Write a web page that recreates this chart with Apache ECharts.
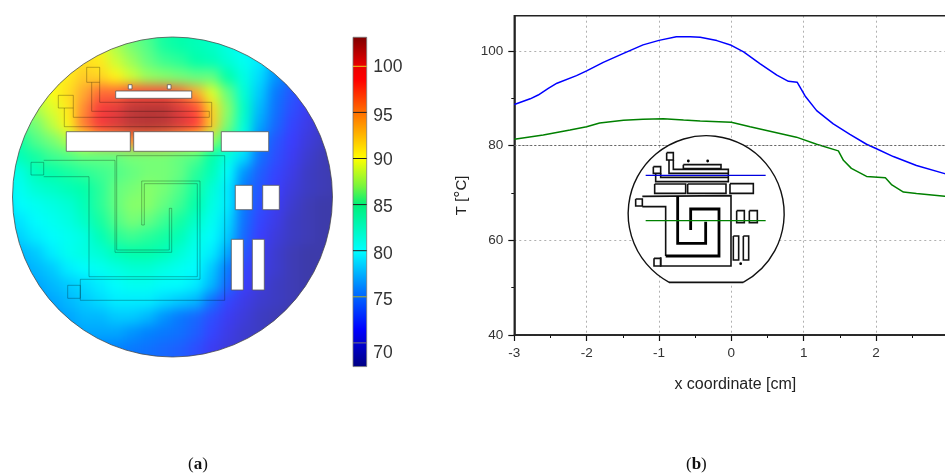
<!DOCTYPE html>
<html><head><meta charset="utf-8">
<style>html,body{margin:0;padding:0;background:#fff;overflow:hidden}#c{width:945px;height:473px}</style>
<script src="https://cdn.jsdelivr.net/npm/echarts@6/dist/echarts.min.js"></script>
</head><body><div id="c"></div>
<script>
// ---------- (b) line profiles ----------
const blueX=[-3,-2.78,-2.67,-2.53,-2.41,-2.14,-2,-1.77,-1.49,-1.22,-1,-.76,-.57,-.43,-.2,0,.17,.4,.63,.79,.91,1.02,1.18,1.41,1.64,1.87,2,2.24,2.56,2.95,3];
const blueT=[88.7,89.9,90.7,92.1,93.2,94.8,95.8,97.6,99.5,101.3,102.25,103,103.03,102.9,102.2,101.2,99.8,97.3,94.9,93.6,93.4,90.5,87.4,84.6,82.4,80.3,79.4,77.7,75.8,74.1,74];
const greenX=[-3,-2.6,-2.23,-2,-1.82,-1.49,-1.22,-.94,-.66,-.43,0,.26,.58,.9,1.18,1.48,1.55,1.66,1.87,2.13,2.22,2.38,2.56,2.95,3];
const greenT=[81.35,82.25,83.3,84,84.8,85.35,85.6,85.7,85.4,85.2,84.95,84,82.9,81.8,80.3,78.9,76.9,75.2,73.5,73.2,71.7,70.2,69.9,69.3,69.2];
const tempTicks=[40,60,80,100];
// ---------- (a) temperature field, one row per 16 px band ----------
const tempRows=[
[88,88,88,88,89,89,88.5,87,85.5,84.5,83.5,83,82.5,82,81,80,79,77,75,73,71,70],
[88,88,88,88.5,90,90.5,89.5,87.5,86,85,83.5,83,82.5,82,81,80,79,77,75,73,71,70],
[88,88,88,89,90.5,91.5,91,88.5,87,85.5,84.5,84,83,82.5,81.5,80.5,79.5,77.5,75.5,73.5,71.5,70],
[88,88,88.5,89.5,91,92.5,92,90.5,88.5,87,86.5,86,85.5,85.5,83,81,79,77,75,73,71.5,70],
[87,87.5,88,90,91.5,94,96,96,97,97,97,96,94,89,85.5,81.5,78.5,76,74,72.5,71,69.5],
[86,86.5,87.5,89,91,95,98.5,100,102,102.5,102.5,100.5,97,92,86.5,82,78,75.5,73.5,72,70.5,69.5],
[84.5,85,86,88,90.5,95.5,98.5,100.5,102,102.5,102,100.5,97.5,92.5,86,81.5,77.5,75,73,71.5,70,69],
[83,83.5,85,86,87.5,90,93,94,95,95,94.5,93,90,87,84,80.5,76.5,74,72.5,71,70,69],
[81.5,82.5,83.5,84.5,85,85.5,85.5,85.5,86,86,86,85.5,85,83,81,79,75.5,73.5,72,70.5,69.5,69],
[80,81,82.5,83,83.5,84,84.5,85,85.5,86,86,85.5,84,82.5,80,77,74.5,73,71.5,70,69.5,69],
[79.5,80.5,81.5,82,82.5,83,84,85.5,86,86.5,86,85,83.5,81.5,79.5,76,74,72.5,71,70,69.5,69],
[79,80,80.5,81,81.5,82.5,84,85.5,86.5,86.5,85.5,84.5,83,81,79.5,76,73.5,72,70.5,69.5,69,69],
[78.5,79.3,80,80.5,81,82,83.5,85,86,85.5,84.5,83.5,82,80.5,79,75.5,73,71.5,70,69.5,69,69],
[78,78.8,79.5,80,80.5,81,82.5,84,84.5,84,83.5,82.5,81,80,78.5,75,72.5,71,70,69.5,69,69],
[77.5,78,78.5,79.5,80.5,81,81.5,82.5,83,83,82.5,81.5,80.5,79.5,77.5,74,72,70.5,69.5,69,69,69],
[77,77.5,78,78.5,79.5,80,80.5,81,81.5,81.5,81,80.5,80,78.5,76,73,71.5,70.5,69.5,69,69,69],
[76.5,77,77.5,78,78.5,79,79.5,80,80.5,80.5,80,80,79.5,78,75,72.5,71,70,69.5,69,69,69],
[76,76.5,77,77.5,78,78.5,79,79.5,79.5,79.5,79,78.5,78,75.5,73,71.5,70.5,70,69.5,69,69,69],
[75.5,76,76.5,77,77.5,78,78,78.5,78.5,78,77,76,75,73.5,72,71,70,69.5,69,69,69,69],
[75,75.5,76,76.5,77,77.5,77.5,77.5,77,76.5,76,75.5,74.5,73,71.5,70.5,70,69.5,69,69,69,69],
[75,75,75.5,76,76.5,76.5,76.5,76.5,76,75.5,75,74.5,73.5,72,71,70.5,70,69.5,69,69,69,69],
[75,75,75.5,76,76.5,76.5,76.5,76.5,76,75.5,75,74.5,73.5,72,71,70.5,70,69.5,69,69,69,69]
];
const scaleMin=67.43, scaleMax=103.15;
const barTicks=[100,95,90,85,80,75,70];
// ---------- (a) wafer layout, in its own 345×373 frame ----------
const waferCentre=[172.5,197], waferRadius=160;
const waferHoles=[[115.7,91,191.7,98.3],[128.3,84.7,132,89],[167.3,84.7,171,89],[66.3,131.7,130.3,151.3],[133.7,131.7,213.3,151.3],[221.3,131.7,268.7,151.3],[235.3,185.3,252.3,209.7],[262.7,185.3,279.3,209.7],[231.3,239.3,243.3,290],[252.3,239.3,264.3,290]];
const waferTraces=[
[[86.7,67.3],[99.7,67.3],[99.7,82.3],[86.7,82.3],[86.7,67.3]],
[[58.3,95.3],[73.3,95.3],[73.3,108],[58.3,108],[58.3,95.3]],
[[91.7,82.3],[91.7,111.3],[209.3,111.3],[209.3,117.3],[73.3,117.3],[73.3,108]],
[[99.7,82.3],[99.7,102.3],[211.7,102.3],[211.7,126.7],[64.3,126.7],[64.3,108]],
[[31,162.3],[43.7,162.3],[43.7,175],[31,175],[31,162.3]],
[[43.7,160.3],[115,160.3],[115,252.3],[171.7,252.3],[171.7,208.3],[169.3,208.3],[169.3,250],[116.7,250],[116.7,155.7],[224.7,155.7],[224.7,300.3],[80.3,300.3],[80.3,279.3],[200,279.3],[200,181],[141.7,181],[141.7,225],[144.3,225],[144.3,183.7],[197.3,183.7],[197.3,276.7],[89,276.7],[89,176.7],[43.7,176.7]],
[[67.7,285.3],[80.3,285.3],[80.3,298.3],[67.7,298.3],[67.7,285.3]]
];
// ---------- (b) inset sketch, in its own 570×480 frame ----------
const insetCentre=[258.5,251], insetRadius=234;
const insetThin=[
[[140,68],[160,68],[160,90],[140,90],[140,68]],
[[147,90],[147,130],[325,130]],
[[160,90],[160,118],[325,118],[325,155],[107,155],[107,130]],
[[190,104],[303,104],[303,116],[190,116],[190,104]],
[[100,110],[122,110],[122,130],[100,130],[100,110]],
[[122,130],[122,142],[325,142]],
[[104,162],[197,162],[197,190],[104,190],[104,162]],
[[203,162],[318,162],[318,190],[203,190],[203,162]],
[[330,161],[400,161],[400,190],[330,190],[330,161]],
[[47,207],[67,207],[67,228],[47,228],[47,207]],
[[67,199],[333,197],[333,408],[122,408],[122,382]],
[[67,230],[137,230],[137,378]],
[[102,385],[122,385],[122,408],[102,408],[102,385]],
[[350,242],[373,242],[373,278],[350,278],[350,242]],
[[388,242],[412,242],[412,278],[388,278],[388,242]],
[[340,318],[356,318],[356,390],[340,390],[340,318]],
[[370,318],[386,318],[386,390],[370,390],[370,318]],
[[147,457],[370,457]]
];
const insetThick=[
[[173,198],[173,340],[257,340],[257,275]],
[[212,300],[212,237],[297,237],[297,378],[137,378]]
];
const insetDots=[[205,93],[263,93],[362,401]];
const insetCuts=[{y:136,c:'#0000e0'},{y:272,c:'#008000'}];
const insetCutSpan=[77,437];

// ---------- colours ----------
const heatStops=[[67.43,[40,40,140]],[69,[62,60,170]],[72.5,[60,60,255]],[76.5,[0,130,255]],[80,[0,255,255]],[83,[0,255,170]],[85.5,[100,255,130]],[87.5,[170,255,80]],[90,[255,255,20]],[94,[255,170,50]],[97.5,[255,60,60]],[99.5,[240,60,60]],[101.5,[195,60,60]],[103.15,[175,50,50]]];
function heatColours(){const out=[];for(let i=0;i<=143;i++){const v=scaleMin+(scaleMax-scaleMin)*i/143;let k=0;while(k<heatStops.length-2&&v>heatStops[k+1][0])k++;const a=heatStops[k],b=heatStops[k+1],t=Math.min(1,(v-a[0])/(b[0]-a[0]));out.push('rgb('+a[1].map((c,j)=>Math.round(c+(b[1][j]-c)*t)).join(',')+')');}return out;}
const barStops=[[67.43,'#000082'],[71.5,'#0000ff'],[76,'#0080ff'],[80,'#00ffff'],[85,'#00f078'],[87,'#78f53c'],[90,'#ffff00'],[95,'#ff6e00'],[98.5,'#ff0000'],[100,'#eb0000'],[103.15,'#7d0000']];
const barGradient={type:'linear',x:0,y:1,x2:0,y2:0,colorStops:barStops.map(s=>({offset:(s[0]-scaleMin)/(scaleMax-scaleMin),color:s[1]}))};
const barTickColours={100:'#e8d020',95:'#222',90:'#222',85:'#222',80:'#222',75:'#b0b020',70:'#777'};
const FONT='"Liberation Sans",Arial,sans-serif';

const heatData=[];tempRows.forEach((r,j)=>r.forEach((v,i)=>heatData.push([i,j,v])));
const idx=a=>a.map((_,i)=>[i]);
const hidden=(extra)=>Object.assign({type:'value',show:false,splitLine:{show:false}},extra);
function polyline(list,style){return function(p,api){return {type:'polyline',shape:{points:list[api.value(0)].map(q=>api.coord(q))},style:Object.assign({fill:null},style)};};}
const free={outerBoundsMode:'none',containLabel:false};

const option={
 backgroundColor:'transparent',animation:false,
 grid:[
  Object.assign({left:-4,top:21,width:352,height:352},free),
  Object.assign({left:0,top:0,width:345,height:373},free),
  Object.assign({left:353,top:20.2,width:13.7,height:368.8},free),
  Object.assign({left:514.3,top:15.7,width:434,height:319.3,show:true,borderColor:'#222',borderWidth:1.5,z:1},free),
  Object.assign({left:620,top:130,width:190,height:160},free)
 ],
 xAxis:[
  {type:'category',gridIndex:0,show:false,data:tempRows[0].map((_,i)=>i)},
  hidden({gridIndex:1,min:0,max:345}),
  hidden({gridIndex:2,min:0,max:1}),
  {type:'value',gridIndex:3,min:-3,max:3,interval:1,
   axisLine:{onZero:false,lineStyle:{color:'#111',width:1.5}},
   axisTick:{show:true,length:6,lineStyle:{color:'#111',width:1.2}},
   minorTick:{show:true,splitNumber:2,length:3,lineStyle:{color:'#111'}},
   splitLine:{show:true,lineStyle:{color:'#b0b0b0',type:[2,3]}},
   axisLabel:{color:'#333',fontFamily:FONT,fontSize:13.5,margin:11,showMinLabel:true,showMaxLabel:true,hideOverlap:false},
   name:'x coordinate [cm]',nameLocation:'middle',nameGap:42,nameTextStyle:{color:'#222',fontFamily:FONT,fontSize:16,padding:[0,0,0,8]}},
  hidden({gridIndex:4,min:0,max:570})
 ],
 yAxis:[
  {type:'category',gridIndex:0,show:false,inverse:true,data:tempRows.map((_,i)=>i)},
  hidden({gridIndex:1,min:0,max:373,inverse:true}),
  {type:'value',gridIndex:2,min:65,max:105,interval:5,position:'right',
   axisLine:{show:false},axisTick:{show:false},splitLine:{show:false},
   axisLabel:{margin:6.5,color:'#333',fontFamily:FONT,fontSize:17.5,
    formatter:v=>(v<70||v>100)?'':('{t'+v+'|'+v+'}'),
    rich:{t100:{fontSize:17.5,padding:[1,0,0,0]},t95:{fontSize:17.5,padding:[8,0,0,0]},t90:{fontSize:17.5,padding:[3,0,0,0]},t85:{fontSize:17.5,padding:[6,0,0,0]},t80:{fontSize:17.5,padding:[7,0,0,0]},t75:{fontSize:17.5,padding:[7,0,0,0]},t70:{fontSize:17.5,padding:[20,0,0,0]}}}},
  {type:'value',gridIndex:3,min:40,max:107.46,interval:20,
   axisLine:{show:true,onZero:false,lineStyle:{color:'#111',width:1.5}},
   axisTick:{show:true,length:6,customValues:tempTicks,lineStyle:{color:'#111',width:1.2}},
   minorTick:{show:true,splitNumber:2,length:3,lineStyle:{color:'#111'}},
   splitLine:{show:true,lineStyle:{color:'#b0b0b0',type:[2,3]}},
   axisLabel:{color:'#333',fontFamily:FONT,fontSize:13.5,margin:11,customValues:tempTicks},
   name:'T [{s|°}C]',nameLocation:'middle',nameGap:43,nameRotate:90,
   nameTextStyle:{color:'#222',fontFamily:FONT,fontSize:15,padding:[0,40,0,0],rich:{s:{fontFamily:FONT,fontSize:18,color:'#222'}}}},
  hidden({gridIndex:4,min:0,max:480,inverse:true})
 ],
 visualMap:{show:false,seriesIndex:0,min:scaleMin,max:scaleMax,inRange:{color:heatColours()}},
 series:[
  {type:'heatmap',xAxisIndex:0,yAxisIndex:0,zlevel:-1,data:heatData,itemStyle:{borderWidth:0},emphasis:{disabled:true},progressive:0},
  {type:'custom',xAxisIndex:1,yAxisIndex:1,z:3,silent:true,clip:false,data:[[0]],renderItem:(p,api)=>{const c=api.coord(waferCentre);return {type:'circle',shape:{cx:c[0],cy:c[1],r:api.size([waferRadius,0])[0]},style:{fill:null,stroke:'rgba(70,70,70,.75)',lineWidth:1}};}},
  {type:'custom',xAxisIndex:1,yAxisIndex:1,z:4,silent:true,clip:false,data:idx(waferHoles),renderItem:(p,api)=>{const r=waferHoles[api.value(0)],a=api.coord([r[0],r[1]]),b=api.coord([r[2],r[3]]);return {type:'rect',shape:{x:a[0],y:a[1],width:b[0]-a[0],height:b[1]-a[1]},style:{fill:'#fff',stroke:'rgba(90,90,90,.8)',lineWidth:1}};}},
  {type:'custom',xAxisIndex:1,yAxisIndex:1,z:3,silent:true,clip:false,data:idx(waferTraces),renderItem:polyline(waferTraces,{stroke:'rgba(0,0,0,.28)',lineWidth:1})},
  {type:'custom',xAxisIndex:2,yAxisIndex:2,z:3,silent:true,clip:false,data:[[0]],renderItem:(p,api)=>{const a=api.coord([0,scaleMax]),b=api.coord([1,scaleMin]);return {type:'rect',shape:{x:a[0],y:a[1],width:b[0]-a[0],height:b[1]-a[1]},style:{fill:barGradient,stroke:'#777',lineWidth:.8}};}},
  {type:'custom',xAxisIndex:2,yAxisIndex:2,z:4,silent:true,clip:false,data:barTicks.map(v=>[v]),encode:{y:0},renderItem:(p,api)=>{const v=api.value(0),a=api.coord([0,v]),b=api.coord([1,v]);return {type:'line',shape:{x1:a[0],y1:a[1],x2:b[0],y2:b[1]},style:{stroke:barTickColours[v],lineWidth:1}};}},
  {type:'line',name:'upper',xAxisIndex:3,yAxisIndex:3,z:3,symbol:'none',lineStyle:{color:'#0000ff',width:1.5},data:blueX.map((x,i)=>[x,blueT[i]]),
   markLine:{silent:true,symbol:'none',label:{show:false},lineStyle:{color:'#666',type:[2,2],width:1},data:[{yAxis:80}]}},
  {type:'line',name:'lower',xAxisIndex:3,yAxisIndex:3,z:3,symbol:'none',lineStyle:{color:'#008000',width:1.5},data:greenX.map((x,i)=>[x,greenT[i]])},
  {type:'custom',xAxisIndex:4,yAxisIndex:4,z:6,silent:true,clip:false,data:[[0]],renderItem:(p,api)=>{const c=api.coord(insetCentre),r=api.size([insetRadius,0])[0];return {type:'arc',shape:{cx:c[0],cy:c[1],r:r,startAngle:118.3*Math.PI/180,endAngle:(360+61.7)*Math.PI/180,clockwise:true},style:{fill:'#fff',stroke:'#111',lineWidth:1.4}};}},
  {type:'custom',xAxisIndex:4,yAxisIndex:4,z:7,silent:true,clip:false,data:idx(insetThin),renderItem:polyline(insetThin,{stroke:'#111',lineWidth:1.6})},
  {type:'custom',xAxisIndex:4,yAxisIndex:4,z:7,silent:true,clip:false,data:idx(insetThick),renderItem:polyline(insetThick,{stroke:'#000',lineWidth:2.8})},
  {type:'custom',xAxisIndex:4,yAxisIndex:4,z:7,silent:true,clip:false,data:insetDots,renderItem:(p,api)=>{const c=api.coord([api.value(0),api.value(1)]);return {type:'circle',shape:{cx:c[0],cy:c[1],r:1.4},style:{fill:'#000'}};}},
  {type:'custom',xAxisIndex:4,yAxisIndex:4,z:8,silent:true,clip:false,data:idx(insetCuts),renderItem:(p,api)=>{const k=insetCuts[api.value(0)],a=api.coord([insetCutSpan[0],k.y]),b=api.coord([insetCutSpan[1],k.y]);return {type:'line',shape:{x1:a[0],y1:a[1],x2:b[0],y2:b[1]},style:{stroke:k.c,lineWidth:1.3}};}}
 ],
 graphic:[
  {type:'text',left:188,top:456,style:{text:'({b|a})',fill:'#111',font:'17px "Liberation Serif",serif',rich:{b:{font:'bold 17px "Liberation Serif",serif',fill:'#111'}}}},
  {type:'text',left:686,top:456,style:{text:'({b|b})',fill:'#111',font:'17px "Liberation Serif",serif',rich:{b:{font:'bold 17px "Liberation Serif",serif',fill:'#111'}}}}
 ]
};
const chart=echarts.init(document.getElementById('c'),null,{renderer:'canvas',width:945,height:473});
chart.setOption(option);
function softenField(){
 const cv=[...chart.getDom().querySelectorAll('canvas')].find(c=>c.getAttribute('data-zr-dom-id')==='zr_-1');
 if(cv){cv.style.filter='blur(6px)';cv.style.clipPath='circle('+waferRadius+'px at '+waferCentre[0]+'px '+waferCentre[1]+'px)';}
}
softenField();chart.on('finished',softenField);requestAnimationFrame(softenField);
</script></body></html>
